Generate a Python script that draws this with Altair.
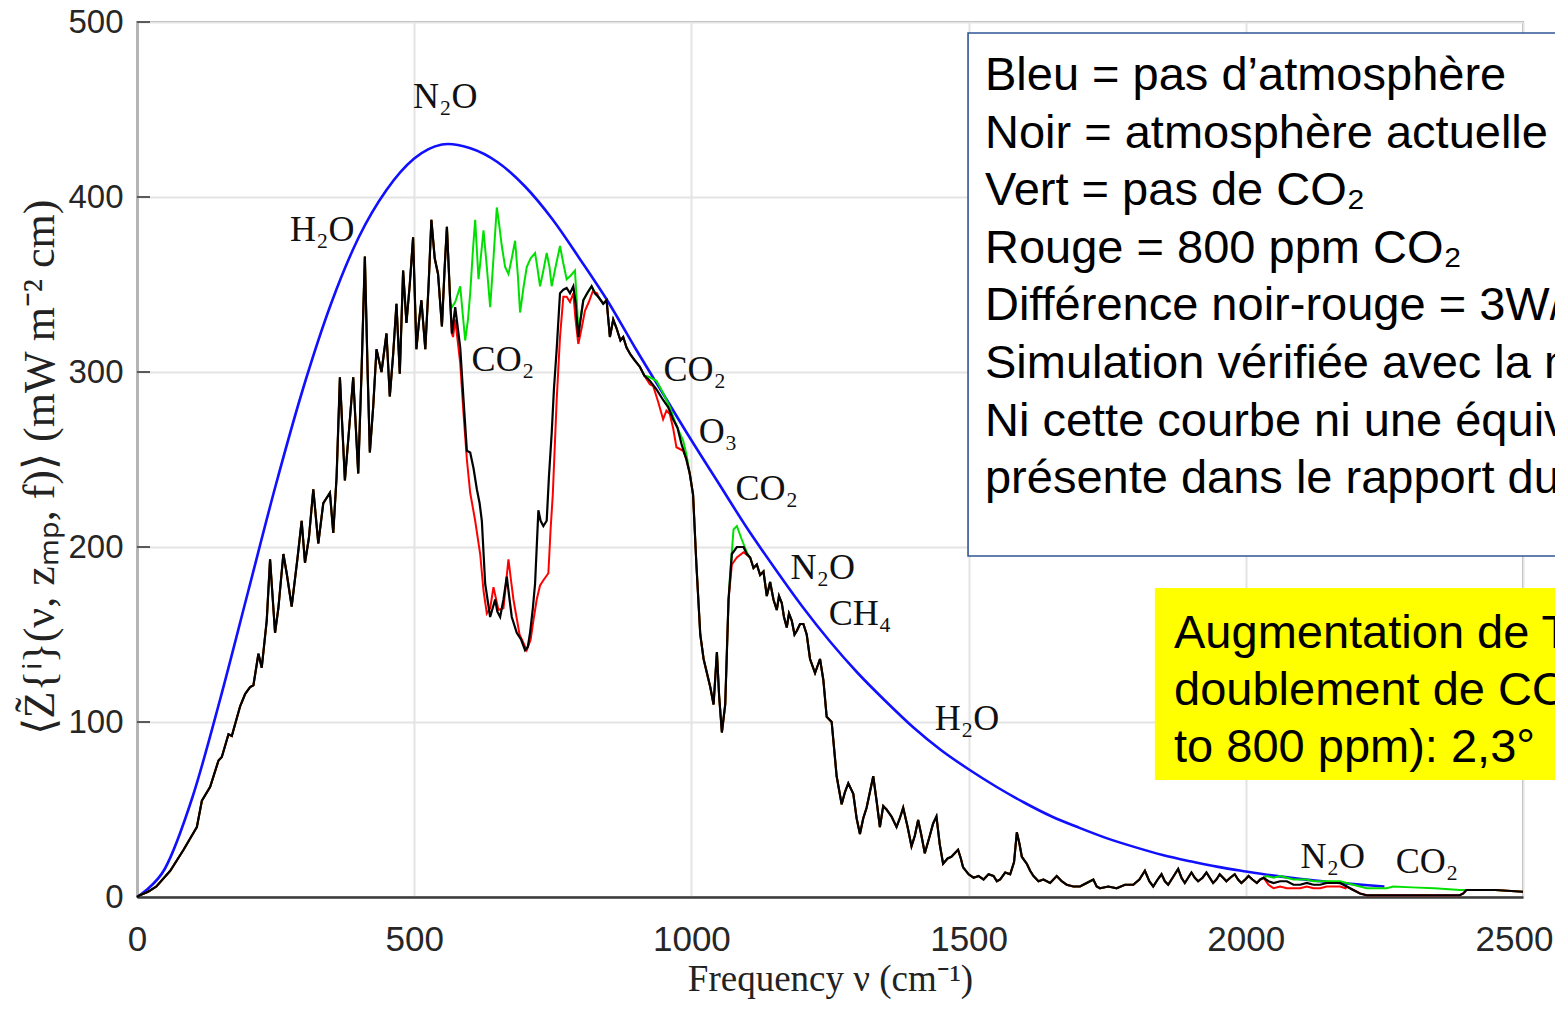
import altair as alt
import pandas as pd

# ---------------- data ----------------
# Blue: no atmosphere (Planck-like envelope), every 50 cm-1
BLUE_NU = list(range(0, 2251, 50))
BLUE_VAL = [0, 16, 57, 113, 174, 235, 291, 339, 377, 404, 422, 430, 428, 420, 406,
            387, 364, 340, 313, 287, 261, 236, 211, 188, 166, 146, 128, 112, 97, 84,
            73, 63, 54, 46, 39.5, 33.5, 28.5, 24, 20.4, 17.2, 14.6, 12.2, 10.2, 8.6, 7.2, 6.0]

# Black: present atmosphere
BLACK = [(0, 0), (5, 1), (20, 3), (35, 6), (60, 15), (84, 27), (108, 40), (117, 55), (132, 63),
         (147, 78), (153, 80), (165, 93), (171, 92), (186, 109), (195, 116), (204, 120), (210, 121),
         (216, 133), (219, 139), (225, 131), (234, 158), (240, 193), (249, 151), (255, 165),
         (264, 196), (270, 185), (279, 166), (290, 195), (297, 215), (303, 191), (310, 205),
         (318, 233), (327, 202), (336, 225), (348, 231), (354, 208), (360, 240), (366, 297),
         (375, 238), (382, 265), (390, 297), (399, 242), (405, 300), (411, 366), (416, 300),
         (420, 254), (426, 280), (432, 313), (441, 300), (450, 322), (456, 286), (462, 310),
         (468, 339), (474, 299), (480, 358), (486, 328), (492, 350), (498, 377), (504, 313),
         (509, 330), (513, 341), (520, 313), (526, 350), (531, 387), (537, 365), (543, 356),
         (550, 326), (555, 360), (559, 383), (565, 340), (568, 322), (574, 337), (583, 314),
         (589, 284), (595, 255), (601, 254), (607, 245), (613, 233), (618, 225), (622, 215),
         (628, 179), (637, 160), (646, 170), (650, 163), (655, 160), (661, 170), (667, 183),
         (672, 170), (676, 160), (685, 151), (693, 147), (700, 141), (705, 143), (709, 151),
         (714, 165), (718, 179), (724, 221), (728, 215), (733, 212), (739, 215), (743, 240),
         (748, 265), (752, 290), (757, 313), (763, 345), (769, 347), (775, 348), (781, 345),
         (787, 349), (791, 340), (796, 320), (800, 330), (805, 341), (812, 345), (820, 349),
         (826, 345), (832, 343), (841, 339), (847, 341), (853, 320), (859, 330), (865, 325),
         (872, 318), (877, 320), (883, 314), (890, 310), (897, 307), (907, 303), (915, 298),
         (925, 295), (937, 290), (949, 284), (958, 280), (967, 273), (975, 268), (982, 259),
         (991, 250), (997, 242), (1003, 230), (1009, 190), (1016, 150), (1022, 136), (1028, 128),
         (1034, 120), (1040, 110), (1046, 140), (1050, 115), (1055, 94), (1061, 110), (1064, 140),
         (1067, 170), (1073, 196), (1082, 200), (1094, 200), (1100, 196), (1106, 194), (1112, 188),
         (1118, 190), (1124, 184), (1130, 186), (1136, 172), (1142, 180), (1148, 170), (1154, 164),
         (1158, 172), (1163, 168), (1167, 160), (1172, 154), (1176, 162), (1181, 158), (1186, 150),
         (1190, 152), (1196, 156), (1202, 156), (1208, 150), (1214, 136), (1223, 128), (1232, 136),
         (1238, 124), (1244, 103), (1253, 100), (1262, 69), (1271, 53), (1277, 60), (1283, 65),
         (1292, 59), (1298, 45), (1304, 36), (1310, 45), (1316, 51), (1322, 60), (1328, 69),
         (1334, 55), (1340, 40), (1346, 52), (1352, 50), (1361, 46), (1370, 40), (1376, 45),
         (1382, 51), (1390, 40), (1397, 29), (1403, 35), (1409, 44), (1415, 35), (1421, 25),
         (1430, 35), (1436, 42), (1442, 46), (1448, 30), (1454, 19), (1462, 22), (1469, 23),
         (1475, 25), (1481, 27), (1486, 22), (1490, 17), (1500, 13), (1509, 11), (1518, 12),
         (1527, 10), (1536, 13), (1545, 12), (1551, 9), (1557, 10), (1566, 14), (1575, 13),
         (1582, 20), (1587, 37), (1592, 30), (1596, 23), (1605, 19), (1611, 15), (1617, 12),
         (1626, 9), (1635, 10), (1647, 8), (1659, 12), (1668, 9), (1677, 7), (1689, 6), (1701, 6),
         (1713, 8), (1725, 10), (1731, 6), (1737, 5), (1752, 6), (1767, 5), (1782, 7), (1797, 7),
         (1808, 10), (1818, 15), (1826, 9), (1833, 6), (1841, 10), (1848, 13), (1854, 9),
         (1860, 7), (1868, 11), (1878, 16), (1884, 11), (1890, 8), (1896, 11), (1902, 14),
         (1908, 11), (1914, 9), (1922, 11), (1929, 14), (1935, 11), (1941, 8), (1947, 10),
         (1953, 13), (1959, 11), (1965, 9), (1972, 11), (1980, 13), (1986, 10), (1992, 8),
         (1999, 10), (2005, 12), (2012, 10), (2020, 8), (2026, 10), (2032, 11), (2041, 9),
         (2050, 8), (2062, 9), (2074, 9), (2086, 7), (2098, 7), (2110, 8), (2122, 7), (2134, 7),
         (2146, 8), (2158, 8), (2170, 8), (2182, 6), (2194, 4), (2206, 2), (2218, 1), (2248, 1),
         (2300, 1), (2386, 1), (2392, 2), (2398, 4), (2450, 4), (2500, 3)]

# Red (800 ppm CO2): segments where it departs from black
RED_SEGMENTS = [
    [(570, 320), (574, 330), (583, 305), (589, 276), (595, 250), (601, 231), (610, 215),
     (619, 196), (625, 175), (631, 162), (637, 165), (643, 177), (652, 164), (661, 165),
     (670, 193), (675, 180), (679, 170), (690, 150), (703, 141), (710, 147), (715, 158),
     (721, 170), (727, 178), (733, 181), (742, 185), (746, 210), (750, 230), (757, 284),
     (763, 320), (769, 343), (775, 343), (781, 340), (787, 345), (791, 330), (796, 316),
     (802, 325), (808, 335), (815, 340), (822, 346), (830, 345)],
    [(925, 293), (931, 292), (940, 283), (949, 273), (955, 278), (961, 276), (967, 268),
     (973, 257), (979, 256), (985, 255), (991, 250)],
    [(1073, 190), (1082, 194), (1094, 197), (1106, 194), (1110, 190)],
    [(2041, 7), (2050, 5), (2062, 6), (2074, 5), (2086, 5), (2098, 5), (2110, 6), (2122, 5),
     (2134, 5), (2146, 6), (2158, 6), (2170, 6), (2180, 5)],
]

# Green (no CO2): segments where it departs from black
GREEN_SEGMENTS = [
    [(565, 340), (568, 337), (574, 340), (583, 349), (587, 335), (592, 318), (597, 330),
     (601, 345), (606, 370), (610, 387), (616, 353), (620, 365), (625, 381), (631, 360),
     (637, 337), (643, 365), (649, 394), (653, 385), (658, 372), (664, 360), (670, 356),
     (676, 365), (682, 375), (687, 355), (691, 334), (697, 348), (703, 360), (710, 365),
     (718, 368), (722, 360), (727, 349), (733, 358), (739, 368), (744, 360), (748, 349),
     (755, 360), (763, 372), (769, 362), (775, 353), (782, 355), (790, 358), (796, 325),
     (800, 330), (805, 341), (812, 345), (820, 349), (825, 346)],
    [(925, 297), (937, 295), (949, 288), (961, 280), (970, 272), (979, 265), (985, 261), (991, 253)],
    [(1070, 185), (1076, 210), (1082, 212), (1090, 205), (1100, 197), (1105, 194)],
    [(2032, 11), (2038, 12), (2050, 11), (2062, 12), (2074, 11), (2086, 10), (2098, 10),
     (2110, 10), (2122, 9), (2134, 9), (2146, 9), (2158, 9), (2170, 9), (2182, 8), (2194, 7),
     (2206, 6), (2218, 5), (2240, 5), (2254, 5), (2266, 6), (2300, 5.5), (2340, 5), (2386, 4),
     (2398, 4)],
]

# Gas labels on the curve
GAS_TEXT = ["N₂O", "H₂O", "CO₂", "CO₂", "O₃", "CO₂", "N₂O", "CH₄", "H₂O", "N₂O", "CO₂"]
GAS_NU = [556, 334, 660, 1006, 1048, 1136, 1237, 1304, 1497, 2157, 2327]
GAS_VAL = [457, 381, 307, 301, 266, 233, 188, 162, 102, 23, 20]

X_TICKS = [0, 500, 1000, 1500, 2000, 2500]
Y_TICKS = [0, 100, 200, 300, 400, 500]

LEGEND_LINES = [
    "Bleu = pas d’atmosphère",
    "Noir = atmosphère actuelle",
    "Vert = pas de CO₂",
    "Rouge = 800 ppm CO₂",
    "Différence noir-rouge = 3W/m²",
    "Simulation vérifiée avec la mesure",
    "Ni cette courbe ni une équivalente n’est",
    "présente dans le rapport du GIEC",
]
YELLOW_LINES = [
    "Augmentation de T° pour un",
    "doublement de CO₂ (400",
    "to 800 ppm): 2,3°",
]


def splice(base, segments):
    pts = list(base)
    for seg in segments:
        lo, hi = seg[0][0], seg[-1][0]
        pts = [p for p in pts if not (lo <= p[0] <= hi)] + list(seg)
    pts.sort(key=lambda p: p[0])
    return pts


def frame(pts):
    return pd.DataFrame({"nu": [p[0] for p in pts], "val": [p[1] for p in pts]})


blue_df = pd.DataFrame({"nu": BLUE_NU, "val": BLUE_VAL})
black_df = frame(BLACK)
red_df = frame(splice(BLACK, RED_SEGMENTS))
green_df = frame(splice(BLACK, GREEN_SEGMENTS))
gas_df = pd.DataFrame({"t": GAS_TEXT, "nu": GAS_NU, "val": GAS_VAL})

# ---------------- scales / axes ----------------
XS = alt.Scale(domain=[0, 2500], nice=False, zero=False)
YS = alt.Scale(domain=[0, 500], nice=False, zero=False)

x_axis = alt.Axis(
    values=X_TICKS, format="d", title="Frequency ν (cm⁻¹)", labelFlush=False,
    labelFont="Liberation Sans", labelFontSize=35, labelColor="#262626",
    labelPadding=25, labelBaseline="top",
    labelOffset={"condition": {"test": "datum.value === 2500", "value": -9}, "value": 0},
    ticks=False, grid=True, gridColor="#e4e4e4", gridWidth=2,
    domainColor="#3c3c3c", domainWidth=2.5,
    titleFont="Liberation Serif", titleFontSize=37, titleFontWeight="normal",
    titleColor="#222222", titleY=82, titleBaseline="middle",
)
y_axis = alt.Axis(
    values=Y_TICKS, format="d", title="⟨Z̃{ⁱ}(ν, zₘₚ, f)⟩ (mW m⁻² cm)", labelFlush=False,
    labelFont="Liberation Sans", labelFontSize=33, labelColor="#262626", labelPadding=14,
    ticks=False, grid=True, gridColor="#e4e4e4", gridWidth=2,
    domainColor="#b5b5b5", domainWidth=3,
    titleFont="Liberation Serif", titleFontSize=44, titleFontWeight="normal",
    titleColor="#222222", titleX=-97, titleY=445, titleAngle=270,
    titleAlign="center", titleBaseline="middle",
)

X_ENC = dict(scale=XS, axis=x_axis)
Y_ENC = dict(scale=YS, axis=y_axis)


def line(df, color, width, **kw):
    return alt.Chart(df).mark_line(color=color, strokeWidth=width, **kw).encode(
        x=alt.X("nu:Q", **X_ENC),
        y=alt.Y("val:Q", **Y_ENC),
    )


blue = line(blue_df, "#1010ff", 2.6, interpolate="cardinal")
green = line(green_df, "#00e000", 2)
red = line(red_df, "#ff0000", 2)
black = line(black_df, "#000000", 2.2)

inner_ticks = alt.Chart(pd.DataFrame({"t": Y_TICKS[1:]})).mark_rule(
    color="#5a5a5a", strokeWidth=2
).encode(y=alt.Y("t:Q", **Y_ENC), x=alt.value(0), x2=alt.value(13))

gas = alt.Chart(gas_df).mark_text(
    font="Liberation Serif", fontSize=36, color="#111111", align="center", baseline="middle"
).encode(
    x=alt.X("nu:Q", **X_ENC),
    y=alt.Y("val:Q", **Y_ENC),
    text="t:N",
)

# Annotation boxes (data coordinates)
box_df = pd.DataFrame({"x": [1499], "x2": [2700], "y": [493.7], "y2": [194.9]})
box = alt.Chart(box_df).mark_rect(fill="white", stroke="#2F5597", strokeWidth=1.6).encode(
    x=alt.X("x:Q", **X_ENC), x2="x2:Q",
    y=alt.Y("y:Q", **Y_ENC), y2="y2:Q",
)
ybox_df = pd.DataFrame({"x": [1836], "x2": [2700], "y": [176.6], "y2": [66.9]})
ybox = alt.Chart(ybox_df).mark_rect(fill="#ffff00").encode(
    x=alt.X("x:Q", **X_ENC), x2="x2:Q",
    y=alt.Y("y:Q", **Y_ENC), y2="y2:Q",
)

legend_df = pd.DataFrame({
    "t": LEGEND_LINES,
    "nu": [1529.5] * len(LEGEND_LINES),
    "val": [461.1 - i * 32.9 for i in range(len(LEGEND_LINES))],
})
legend_text = alt.Chart(legend_df).mark_text(
    font="Liberation Sans", fontSize=47, color="#000000", align="left", baseline="alphabetic"
).encode(
    x=alt.X("nu:Q", **X_ENC),
    y=alt.Y("val:Q", **Y_ENC),
    text="t:N",
)
yellow_df = pd.DataFrame({
    "t": YELLOW_LINES,
    "nu": [1870.5] * len(YELLOW_LINES),
    "val": [142.3 - i * 32.6 for i in range(len(YELLOW_LINES))],
})
yellow_text = alt.Chart(yellow_df).mark_text(
    font="Liberation Sans", fontSize=47, color="#000000", align="left", baseline="alphabetic"
).encode(
    x=alt.X("nu:Q", **X_ENC),
    y=alt.Y("val:Q", **Y_ENC),
    text="t:N",
)

chart = alt.layer(
    blue, green, red, black, inner_ticks, gas, box, ybox, legend_text, yellow_text
).properties(
    width=1386, height=875,
    autosize=alt.AutoSizeParams(type="none"),
    padding={"left": 129, "top": 14, "right": 32, "bottom": 106},
    background="white",
).configure_view(stroke="#a6a6a6", strokeWidth=2)

chart.save("out.html", embed_options={"renderer": "svg", "actions": False})
